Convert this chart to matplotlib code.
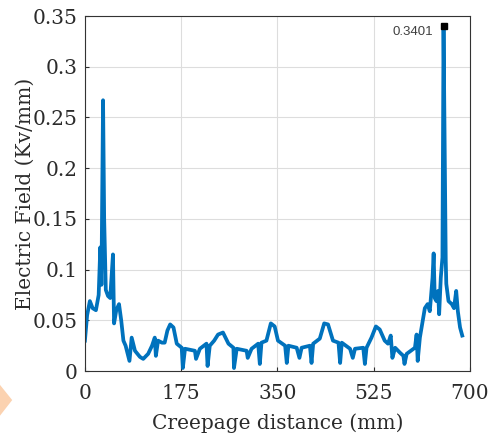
import numpy as np
import matplotlib.pyplot as plt
from matplotlib.patches import Polygon

# Electric field along the creepage path
distance = [0, 4, 9, 14, 20, 25, 28, 30, 33, 35, 38, 42, 46, 51, 53, 57, 62, 66, 70,
            74, 81, 85, 91, 100, 106, 115, 122, 127, 129, 133, 140, 145, 150, 155, 161,
            167, 176, 178, 182, 200, 202, 209, 221, 223, 227, 235, 242, 251, 261, 270,
            271, 276, 294, 296, 303, 315, 318, 321, 330, 338, 345, 351, 364, 367, 370,
            385, 390, 394, 409, 412, 415, 427, 435, 442, 451, 461, 464, 467, 482, 487,
            491, 506, 509, 512, 521, 529, 536, 545, 551, 556, 559, 564, 573, 579, 581,
            585, 600, 603, 605, 609, 618, 623, 627, 632, 634, 636, 639, 642, 644, 647,
            650, 652, 656, 657, 661, 667, 671, 675, 678, 682, 686]
field = [0.030, 0.055, 0.069, 0.062, 0.060, 0.075, 0.122, 0.085, 0.267, 0.150, 0.080,
         0.074, 0.072, 0.115, 0.047, 0.060, 0.066, 0.050, 0.030,
         0.025, 0.010, 0.033, 0.020, 0.014, 0.012, 0.017, 0.025, 0.033, 0.015, 0.030,
         0.028, 0.028, 0.040, 0.046, 0.043,
         0.027, 0.023, 0.003, 0.022, 0.020, 0.012, 0.022, 0.027, 0.005, 0.025, 0.030,
         0.036, 0.038, 0.027, 0.023,
         0.003, 0.022, 0.020, 0.013, 0.022, 0.027, 0.007, 0.028, 0.030, 0.047, 0.044,
         0.030, 0.025, 0.008, 0.025,
         0.023, 0.013, 0.023, 0.025, 0.008, 0.027, 0.032, 0.047, 0.046, 0.030, 0.028,
         0.008, 0.028, 0.022, 0.013,
         0.022, 0.023, 0.007, 0.023, 0.033, 0.044, 0.041, 0.030, 0.027, 0.035, 0.013,
         0.023, 0.018, 0.015, 0.007,
         0.017, 0.023, 0.036, 0.010, 0.033, 0.062, 0.066, 0.059, 0.092, 0.116, 0.072,
         0.069, 0.079, 0.056, 0.092,
         0.112, 0.3401, 0.109, 0.086, 0.069, 0.066, 0.062, 0.079, 0.059, 0.043, 0.035]

x_ticks = [0, 175, 350, 525, 700]
y_ticks = [0, 0.05, 0.1, 0.15, 0.2, 0.25, 0.3, 0.35]
y_tick_labels = ['0', '0.05', '0.1', '0.15', '0.2', '0.25', '0.3', '0.35']

plt.rcParams['font.family'] = 'DejaVu Serif'

fig = plt.figure(figsize=(4.88, 4.46), dpi=100)
ax = fig.add_axes([0.174, 0.168, 0.789, 0.796])

ax.plot(distance, field, '-', color='#0072BD', linewidth=2.7, solid_joinstyle='round')

# data tip on the maximum
i_max = int(np.argmax(field))
ax.plot(distance[i_max], field[i_max], 's', color='black', markersize=5)
ax.text(distance[i_max] - 19, field[i_max] - 0.0055, '%.4f' % field[i_max],
        ha='right', va='center', fontsize=9.5, color='#404040', family='Liberation Sans')

ax.set_xlim(0, 700)
ax.set_ylim(0, 0.35)
ax.set_xticks(x_ticks)
ax.set_yticks(y_ticks)
ax.set_yticklabels(y_tick_labels)
ax.tick_params(direction='in', length=3, labelsize=14.5, colors='#2b2b2b')
ax.tick_params(axis='x', pad=9)
ax.tick_params(axis='y', pad=5)
ax.grid(True, color='#dddddd', linewidth=0.8)
ax.set_axisbelow(True)
for s in ax.spines.values():
    s.set_color('#333333')
    s.set_linewidth(0.8)

ax.set_xlabel('Creepage distance (mm)', fontsize=14.5, color='#2b2b2b', labelpad=8)
ax.set_ylabel('Electric Field (Kv/mm)', fontsize=14.5, color='#2b2b2b', labelpad=-1)

# small orange badge on the left edge
fig.patches.append(Polygon([[0, 0.137], [0.025, 0.103], [0, 0.068]], closed=True,
                           transform=fig.transFigure, facecolor='#fbd2b0', edgecolor='none'))

fig.savefig('out.png', dpi=100)
